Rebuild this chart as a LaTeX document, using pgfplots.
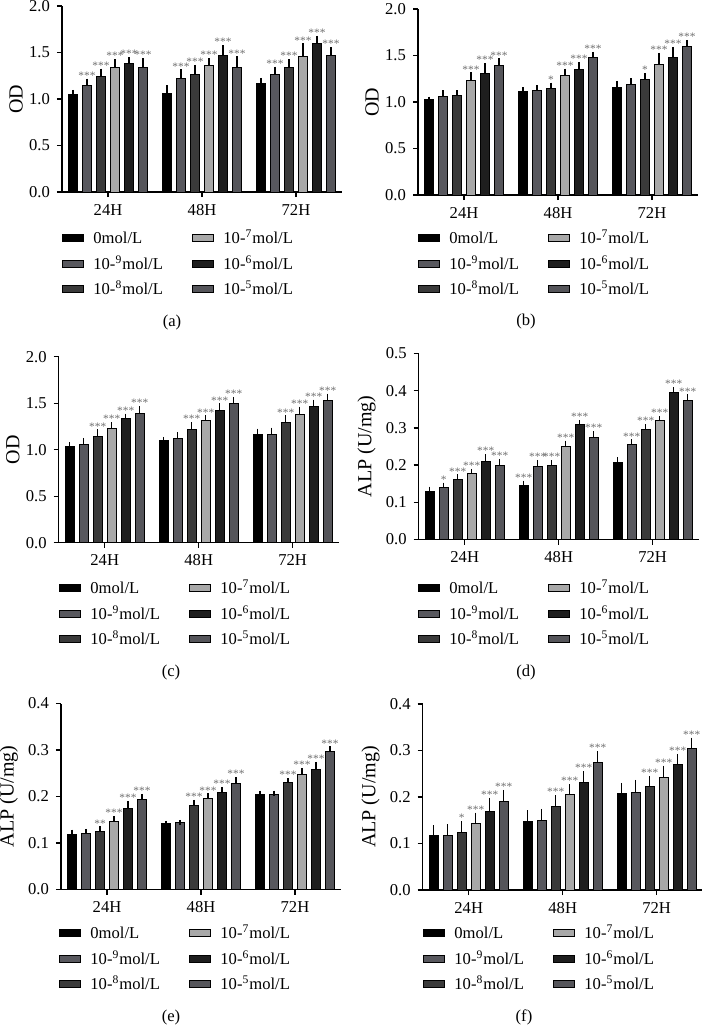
\documentclass[border=0pt]{standalone}
\usepackage{pgfplots}
\pgfplotsset{compat=1.18}
\usepackage{pgfplotstable}
\usepackage{fontspec}
\setmainfont{Liberation Serif}

\definecolor{c0}{HTML}{000000}
\definecolor{c9}{HTML}{58585E}
\definecolor{c8}{HTML}{3A3A3A}
\definecolor{c7}{HTML}{A8A8A8}
\definecolor{c6}{HTML}{1E1E1E}
\definecolor{c5}{HTML}{55555A}
\definecolor{stargray}{HTML}{707070}

\newcommand{\lbl}{\fontsize{8.3}{10}\selectfont}
\newcommand{\starfont}{\fontsize{5.7}{6}\selectfont}

% columns: group, then mean / error / significance for each concentration
\pgfplotstableread{
x m1 e1 p1 m2 e2 p2 m3 e3 p3 m4 e4 p4 m5 e5 p5 m6 e6 p6
0 1.05 0.02 {} 1.15 0.04 *** 1.24 0.06 *** 1.34 0.06 *** 1.38 0.04 *** 1.34 0.07 ***
1 1.06 0.06 {} 1.22 0.07 *** 1.26 0.08 *** 1.36 0.05 *** 1.47 0.08 *** 1.34 0.09 ***
2 1.17 0.03 {} 1.26 0.06 *** 1.34 0.06 *** 1.46 0.11 *** 1.60 0.05 *** 1.47 0.06 ***
}\dataA
\pgfplotstableread{
x m1 e1 p1 m2 e2 p2 m3 e3 p3 m4 e4 p4 m5 e5 p5 m6 e6 p6
0 1.03 0.00 {} 1.06 0.04 {} 1.07 0.03 {} 1.23 0.06 *** 1.31 0.08 *** 1.39 0.05 ***
1 1.11 0.02 {} 1.12 0.03 {} 1.14 0.04 *  1.29 0.04 *** 1.35 0.05 *** 1.48 0.03 ***
2 1.16 0.04 {} 1.19 0.04 {} 1.24 0.04 *  1.40 0.10 *** 1.475 0.09 *** 1.60 0.04 ***
}\dataB
\pgfplotstableread{
x m1 e1 p1 m2 e2 p2 m3 e3 p3 m4 e4 p4 m5 e5 p5 m6 e6 p6
0 1.03 0.02 {} 1.06 0.04 {} 1.14 0.05 *** 1.23 0.04 *** 1.34 0.02 *** 1.39 0.05 ***
1 1.10 0.01 {} 1.12 0.04 {} 1.22 0.05 *** 1.31 0.03 *** 1.42 0.05 *** 1.50 0.04 ***
2 1.16 0.04 {} 1.16 0.05 {} 1.29 0.05 *** 1.375 0.06 *** 1.46 0.05 *** 1.525 0.05 ***
}\dataC
\pgfplotstableread{
x m1 e1 p1 m2 e2 p2 m3 e3 p3 m4 e4 p4 m5 e5 p5 m6 e6 p6
0 0.130 0.005 {}  0.139 0.007 *   0.160 0.008 *** 0.177 0.006 *** 0.210 0.012 *** 0.200 0.010 ***
1 0.144 0.007 *** 0.197 0.010 *** 0.200 0.006 *** 0.250 0.009 *** 0.308 0.006 *** 0.275 0.009 ***
2 0.208 0.006 {}  0.256 0.006 *** 0.296 0.007 *** 0.319 0.006 *** 0.394 0.008 *** 0.375 0.008 ***
}\dataD
\pgfplotstableread{
x m1 e1 p1 m2 e2 p2 m3 e3 p3 m4 e4 p4 m5 e5 p5 m6 e6 p6
0 0.118 0.005 {} 0.121 0.004 {} 0.125 0.005 **  0.147 0.006 *** 0.174 0.010 *** 0.194 0.006 ***
1 0.142 0.000 {} 0.144 0.000 {} 0.180 0.007 *** 0.195 0.006 *** 0.208 0.007 *** 0.228 0.008 ***
2 0.205 0.002 {} 0.205 0.002 {} 0.230 0.004 *** 0.248 0.008 *** 0.259 0.010 *** 0.296 0.006 ***
}\dataE
\pgfplotstableread{
x m1 e1 p1 m2 e2 p2 m3 e3 p3 m4 e4 p4 m5 e5 p5 m6 e6 p6
0 0.118 0.016 {} 0.118 0.018 {} 0.123 0.019 *   0.143 0.018 *** 0.169 0.024 *** 0.191 0.019 ***
1 0.148 0.018 {} 0.150 0.019 {} 0.180 0.018 *** 0.205 0.017 *** 0.231 0.019 *** 0.274 0.019 ***
2 0.207 0.018 {} 0.209 0.022 {} 0.222 0.017 *** 0.241 0.021 *** 0.270 0.017 *** 0.304 0.018 ***
}\dataF

\pgfplotsset{
  panel/.style={
    scale only axis, width=140pt, height=93pt,
    anchor=south west,
    xmin=-0.49, xmax=2.49, ymin=0,
    xtick={0,1,2}, xticklabels={24H,48H,72H},
    axis lines*=left,
    axis line style={black, line width=0.7pt},
    tick align=outside, major tick length=2.5pt,
    every tick/.style={black, line width=0.7pt},
    tick label style={font=\lbl},
    label style={font=\lbl},
    /pgf/number format/assume math mode=true,
    yticklabel style={/pgf/number format/fixed, /pgf/number format/fixed zerofill, /pgf/number format/precision=1},
    clip=false,
  },
  odlabel/.style={ylabel={OD}, ymax=2.0, ytick={0,0.5,1.0,1.5,2.0},
    every axis y label/.style={at={(axis description cs:-0.164,0.5)}, rotate=90, anchor=center}},
  alplabel/.style={ylabel={ALP (U/mg)},
    every axis y label/.style={at={(axis description cs:-0.186,0.5)}, rotate=90, anchor=center}},
  grp/.style={ybar, bar width=4.5pt, bar shift=0pt, fill=#1, draw=black, line width=0.5pt,
    error bars/y dir=plus, error bars/y explicit,
    error bars/error bar style={black, line width=0.6pt, solid},
    error bars/error mark options={black, line width=0.6pt, mark size=1.3pt, solid}},
}

% bars are placed at group + offset (offsets of 0.149 groups between neighbours)
\newcommand{\barplot}[4]{%
  \addplot[grp=#4] table[x expr=\thisrow{x}+#2, y=m#3, y error=e#3]{#1};}
\newcommand{\starplot}[3]{%
  \addplot[only marks, mark=none, point meta=explicit symbolic, nodes near coords,
    every node near coord/.append style={font=\starfont, text=stargray, anchor=base, inner sep=0pt, yshift=1pt}]
    table[x expr=\thisrow{x}+#2, y expr=\thisrow{m#3}+\thisrow{e#3}, meta=p#3]{#1};}

\newcommand{\panelplots}[1]{%
  \barplot{#1}{-0.3725}{1}{c0}
  \barplot{#1}{-0.2235}{2}{c9}
  \barplot{#1}{-0.0745}{3}{c8}
  \barplot{#1}{0.0745}{4}{c7}
  \barplot{#1}{0.2235}{5}{c6}
  \barplot{#1}{0.3725}{6}{c5}
  \starplot{#1}{-0.3725}{1}
  \starplot{#1}{-0.2235}{2}
  \starplot{#1}{-0.0745}{3}
  \starplot{#1}{0.0745}{4}
  \starplot{#1}{0.2235}{5}
  \starplot{#1}{0.3725}{6}}

% legend item in pixel coordinates (y downwards)
\newcommand{\legitem}[4]{%
  \filldraw[fill=#3, draw=black, line width=0.5pt] ({(#1)*0.5pt},{-(#2-3.5)*0.5pt}) rectangle ({(#1+21)*0.5pt},{-(#2+3.5)*0.5pt});
  \node[font=\lbl, anchor=base west, inner sep=0pt] at ({(#1+31)*0.5pt},{-(#2+5)*0.5pt}) {#4};}
\newcommand{\legendat}[2]{%
  \legitem{#1}{#2}{c0}{0mol/L}
  \legitem{#1}{#2+26}{c9}{10-\textsuperscript{9}mol/L}
  \legitem{#1}{#2+51}{c8}{10-\textsuperscript{8}mol/L}
  \legitem{#1+130}{#2}{c7}{10-\textsuperscript{7}mol/L}
  \legitem{#1+130}{#2+26}{c6}{10-\textsuperscript{6}mol/L}
  \legitem{#1+130}{#2+51}{c5}{10-\textsuperscript{5}mol/L}}

\begin{document}
\begin{tikzpicture}
\path[use as bounding box] (0,0) rectangle (351pt,-512.5pt);

\begin{axis}[panel, odlabel, at={({62*0.5pt},{-192*0.5pt})}]
\panelplots{\dataA}
\end{axis}
\legendat{62}{238}
\node[font=\lbl] at ({172*0.5pt},{-322*0.5pt}) {(a)};

\begin{axis}[panel, odlabel, at={({418*0.5pt},{-195*0.5pt})}]
\panelplots{\dataB}
\end{axis}
\legendat{418}{238}
\node[font=\lbl] at ({526*0.5pt},{-321*0.5pt}) {(b)};

\begin{axis}[panel, odlabel, at={({58.7*0.5pt},{-542.7*0.5pt})}]
\panelplots{\dataC}
\end{axis}
\legendat{59}{588}
\node[font=\lbl] at ({171*0.5pt},{-672*0.5pt}) {(c)};

\begin{axis}[panel, alplabel, ymax=0.5, ytick={0,0.1,0.2,0.3,0.4,0.5}, at={({418.7*0.5pt},{-539.5*0.5pt})}]
\panelplots{\dataD}
\end{axis}
\legendat{418}{588}
\node[font=\lbl] at ({526*0.5pt},{-672*0.5pt}) {(d)};

\begin{axis}[panel, alplabel, ymax=0.4, ytick={0,0.1,0.2,0.3,0.4}, at={({61*0.5pt},{-889.5*0.5pt})}]
\panelplots{\dataE}
\end{axis}
\legendat{59}{933}
\node[font=\lbl] at ({171*0.5pt},{-1017*0.5pt}) {(e)};

\begin{axis}[panel, alplabel, ymax=0.4, ytick={0,0.1,0.2,0.3,0.4}, at={({422.7*0.5pt},{-890*0.5pt})}]
\panelplots{\dataF}
\end{axis}
\legendat{423}{933}
\node[font=\lbl] at ({524*0.5pt},{-1017*0.5pt}) {(f)};
\end{tikzpicture}
\end{document}
